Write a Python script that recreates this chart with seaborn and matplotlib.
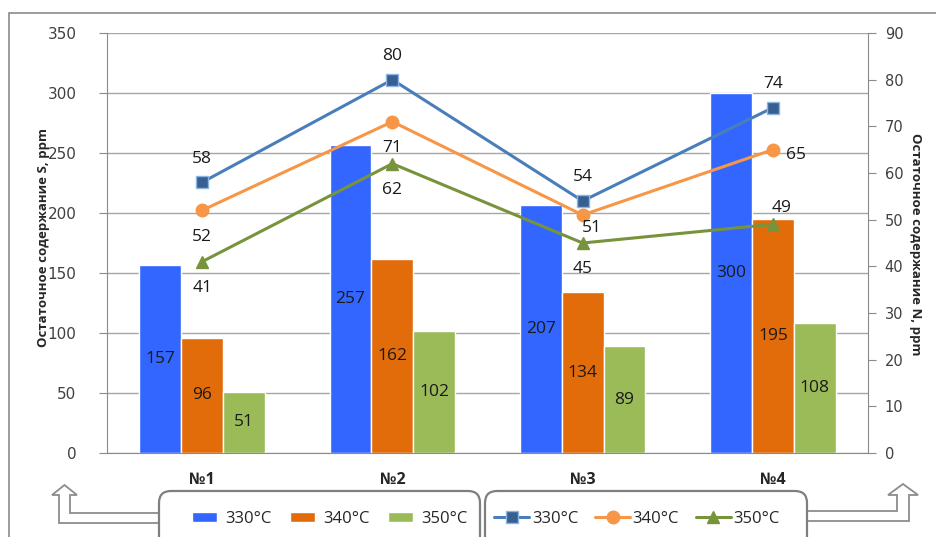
import matplotlib
matplotlib.use('Agg')
import matplotlib.pyplot as plt
from matplotlib.patches import FancyBboxPatch, Polygon, Rectangle
import numpy as np
import pandas as pd
import seaborn as sns

samples = ['№1', '№2', '№3', '№4']
temps = ['330°C', '340°C', '350°C']
s_330 = [157, 257, 207, 300]
s_340 = [96, 162, 134, 195]
s_350 = [51, 102, 89, 108]
n_330 = [58, 80, 54, 74]
n_340 = [52, 71, 51, 65]
n_350 = [41, 62, 45, 49]

s_ticks = [0, 50, 100, 150, 200, 250, 300, 350]
n_ticks = [0, 10, 20, 30, 40, 50, 60, 70, 80, 90]

bar_colors = ['#3366FF', '#E36C0A', '#9BBB59']
line_colors = ['#4A7EBB', '#F79646', '#77933C']
marker_faces = ['#376092', '#F79646', '#77933C']
marker_edges = ['#8EB4E3', '#F79646', '#77933C']
markers = ['s', 'o', '^']
marker_sizes = [8.5, 9, 9]

W, H = 936, 537


def px(x, y):
    # pixel position (from top-left) -> inches for dpi_scale_trans
    return x / 100, (H - y) / 100


def draw_frame(fig):
    tr = fig.dpi_scale_trans
    fig.patches.append(Rectangle(px(9, 560), 10, (560 - 13) / 100,
                                 transform=tr, fill=False, ec='#8A8A8A',
                                 lw=1.2))
    # hollow arrows
    left = [(160, 513), (70, 513), (70, 495), (77, 495), (64.5, 485),
            (52, 495), (59, 495), (59, 523), (160, 523)]
    right = [(806, 511), (897, 511), (897, 495), (888, 495), (903, 484),
             (918, 495), (909, 495), (909, 521), (806, 521)]
    for pts in (left, right):
        fig.patches.append(Polygon([px(*p) for p in pts], closed=False,
                                   transform=tr, fc='white', ec='#8C8C8C',
                                   lw=1.3, zorder=1))
    for x0, x1 in ((159, 480), (485, 807)):
        x, y = px(x0, 580)
        fig.patches.append(FancyBboxPatch(
            (x, y), (x1 - x0) / 100, (580 - 491) / 100, transform=tr,
            boxstyle='round,pad=0,rounding_size=0.12', fc='white',
            ec='#7F7F7F', lw=1.6, zorder=2))


def main():
    sns.set_style('white')
    plt.rcParams['font.family'] = ['Open Sans', 'DejaVu Sans']

    s_df = pd.DataFrame({
        'sample': samples * 3,
        'temp': np.repeat(temps, len(samples)),
        'S': s_330 + s_340 + s_350,
    })

    fig = plt.figure(figsize=(W / 100, H / 100), dpi=100)
    ax = fig.add_axes([107 / W, 1 - 453 / H, 761 / W, 420 / H])
    sns.barplot(data=s_df, x='sample', y='S', hue='temp', order=samples,
                hue_order=temps, palette=bar_colors, width=0.66,
                edgecolor='white', linewidth=1, saturation=1, ax=ax)
    ax.get_legend().remove()
    for c in ax.containers:
        ax.bar_label(c, label_type='center', fontsize=12.5, color='#1A1A1A')

    ax.set_ylim(0, 350)
    ax.set_yticks(s_ticks)
    ax.set_xlim(-0.5, len(samples) - 0.5)
    ax.yaxis.grid(True, color='#A6A6A6', lw=1)
    ax.set_axisbelow(True)
    ax.set_xlabel('')
    ax.set_ylabel('Остаточное содержание S, ppm', fontsize=9.5,
                  fontweight='bold', va='center')
    ax.yaxis.set_label_coords(-0.084, 0.514)
    ax.set_xticks(range(len(samples)))
    ax.set_xticklabels(samples, fontweight='bold', fontsize=11.5)
    ax.set_xticks(np.arange(-0.5, len(samples)), minor=True)
    ax.tick_params(axis='x', which='major', length=0, pad=14)
    ax.tick_params(axis='x', which='minor', length=6, color='#8A8A8A',
                   direction='out')
    ax.tick_params(axis='y', length=6, color='#8A8A8A', direction='out',
                   pad=16, left=True)
    for lab in ax.get_yticklabels():
        lab.set_fontfamily('DejaVu Sans')
        lab.set_fontsize(11)
        lab.set_color('#404040')
    for s in ('top', 'right'):
        ax.spines[s].set_visible(False)
    for s in ('left', 'bottom'):
        ax.spines[s].set_color('#8A8A8A')

    ax2 = ax.twinx()
    x = np.arange(len(samples))
    for i, vals in enumerate([n_330, n_340, n_350]):
        sns.lineplot(x=x, y=vals, color=line_colors[i], marker=markers[i],
                     markerfacecolor=marker_faces[i],
                     markeredgecolor=marker_edges[i],
                     markeredgewidth=1, markersize=marker_sizes[i],
                     linewidth=2.2, label=temps[i], ax=ax2)
    ax2.get_legend().remove()

    # label placement offsets (points)
    up, down = (0, 17), (0, -19)
    offsets = [
        [up, up, up, up],
        [down, down, (7, -9.5), (17, -4)],
        [down, down, down, (6, 12)],
    ]
    for i, vals in enumerate([n_330, n_340, n_350]):
        for j, v in enumerate(vals):
            ax2.annotate(str(v), (x[j], v), xytext=offsets[i][j],
                         textcoords='offset points', ha='center',
                         va='center', fontsize=12.5, color='#1A1A1A')

    ax2.set_ylim(0, 90)
    ax2.set_yticks(n_ticks)
    ax2.set_ylabel('Остаточное содержание N, ppm', fontsize=9.5,
                   fontweight='bold', rotation=270, va='center')
    ax2.yaxis.set_label_coords(1.062, 0.498)
    ax2.tick_params(axis='y', length=6, color='#8A8A8A', direction='out',
                    pad=6, right=True)
    for lab in ax2.get_yticklabels():
        lab.set_fontfamily('DejaVu Sans')
        lab.set_fontsize(10.5)
        lab.set_color('#404040')
    for s in ('top', 'left', 'bottom'):
        ax2.spines[s].set_visible(False)
    ax2.spines['right'].set_color('#8A8A8A')

    draw_frame(fig)

    leg_y = 1 - 519 / H
    fig.legend(ax.containers, temps, loc='center',
               bbox_to_anchor=(330 / W, leg_y), ncol=3, frameon=False,
               fontsize=12, handlelength=1.5, handleheight=0.55,
               handletextpad=0.5, columnspacing=1.1)
    fig.legend(ax2.get_lines(), temps, loc='center',
               bbox_to_anchor=(637 / W, leg_y), ncol=3, frameon=False,
               fontsize=12, handlelength=2.1, handletextpad=0.15,
               columnspacing=1.0)

    fig.savefig('out.png', dpi=100)


if __name__ == '__main__':
    main()
